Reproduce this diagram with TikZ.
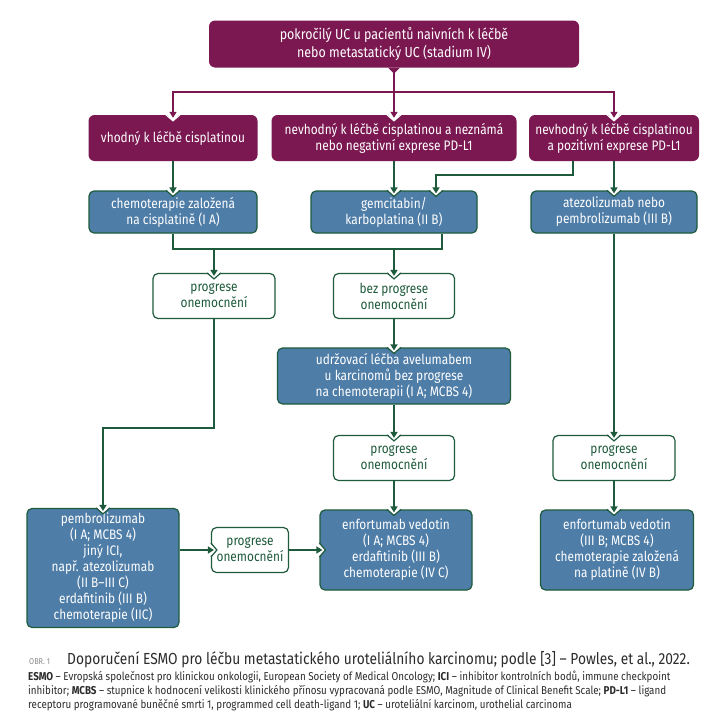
\documentclass[tikz,border=0pt]{standalone}
\usepackage{fontspec}
\setmainfont{Fira Sans}[FakeStretch=0.86]
\usetikzlibrary{arrows.meta}

\definecolor{fialova}{HTML}{7B1852}
\definecolor{modra}{HTML}{4E7DA8}
\definecolor{zelena}{HTML}{1E5A3C}
\definecolor{seda}{HTML}{8A8A8A}
\definecolor{tmava}{HTML}{2B2B2B}

% zářez v hraně boxu, kam míří šipka
\newcommand{\zarez}[3]{%
  \begin{scope}[shift={#1}, rotate=#2]
    \fill[white] (-7,-1.2) -- (0,6) -- (7,-1.2) -- cycle;
    \draw[#3, line width=1.2pt] (-7,0) -- (0,6) -- (7,0);
  \end{scope}}

\begin{document}
\begin{tikzpicture}[x=1pt, y=-1pt]
    % Definice stylů
    \tikzset{every node/.style={font=\fontsize{13.8}{16}\selectfont, align=center, inner sep=1pt}}
    \tikzstyle{fialovy}=[fill=fialova, text=white, rounded corners=6pt]
    \tikzstyle{modry}=[draw=zelena, line width=1.2pt, fill=modra, text=white, rounded corners=5pt]
    \tikzstyle{bily}=[draw=zelena, line width=1.2pt, fill=white, text=zelena, rounded corners=5pt]
    \tikzstyle{sipka}=[-{Triangle[length=6pt,width=7pt]}, line width=1.7pt, zelena, shorten >=-3pt]
    \tikzstyle{fsipka}=[-{Triangle[length=6pt,width=7pt]}, line width=1.7pt, fialova, shorten >=-3pt]
    \tikzstyle{cara}=[line width=1.7pt, zelena]

    \useasboundingbox (0,0) rectangle (715,720);

    % Úroveň 1: výchozí stav
    \node[fialovy, minimum width=370pt, minimum height=47pt, font=\fontsize{14.5}{18}\selectfont] (uvod) at (394,44)
        {pokročilý UC u pacientů naivních k léčbě\\nebo metastatický UC (stadium IV)};
    \fill[fialova] ([xshift=-6pt]uvod.south) -- ++(6,6) -- ++(6,-6) -- cycle;

    % Úroveň 2: skupiny pacientů
    \node[fialovy, minimum width=169pt, minimum height=46pt] (vhodny) at (173,138) {vhodný k léčbě cisplatinou};
    \node[fialovy, minimum width=245pt, minimum height=46pt] (nevhodny) at (394,138)
        {nevhodný k léčbě cisplatinou a neznámá\\nebo negativní exprese PD-L1};
    \node[fialovy, minimum width=170pt, minimum height=46pt] (nevhodnyPD) at (614,138)
        {nevhodný k léčbě cisplatinou\\a pozitivní exprese PD-L1};

    % Úroveň 3: první linie léčby
    \node[modry, minimum width=168pt, minimum height=42pt] (chemo) at (173,212) {chemoterapie založená\\na cisplatině (I A)};
    \node[modry, minimum width=166pt, minimum height=42pt] (gemcit) at (394,212) {gemcitabin/\\karboplatina (II B)};
    \node[modry, minimum width=166pt, minimum height=42pt] (atezo) at (614,212) {atezolizumab nebo\\pembrolizumab (III B)};

    % Úroveň 4: odpověď na chemoterapii
    \node[bily, minimum width=122pt, minimum height=45pt] (prog1) at (214,296) {progrese\\onemocnění};
    \node[bily, minimum width=121pt, minimum height=45pt] (bezprog) at (394,296) {bez progrese\\onemocnění};
    \node[modry, minimum width=233pt, minimum height=56pt] (udrz) at (394,376)
        {udržovací léčba avelumabem\\u karcinomů bez progrese\\na chemoterapii (I A; MCBS 4)};
    \node[bily, minimum width=121pt, minimum height=45pt] (prog2) at (394,458) {progrese\\onemocnění};
    \node[bily, minimum width=122pt, minimum height=45pt] (prog3) at (614,458) {progrese\\onemocnění};

    % Úroveň 5: další linie léčby
    \node[modry, minimum width=152pt, minimum height=119pt] (pembro) at (103,568)
        {pembrolizumab\\(I A; MCBS 4)\\jiný ICI,\\např. atezolizumab\\(II B–III C)\\erdafitinib (III B)\\chemoterapie (IIC)};
    \node[bily, minimum width=77pt, minimum height=45pt, inner sep=0pt] (prog4) at (250,550) {progrese\\onemocnění};
    \node[modry, minimum width=152pt, minimum height=80pt] (enf1) at (396,550)
        {enfortumab vedotin\\(I A; MCBS 4)\\erdafitinib (III B)\\chemoterapie (IV C)};
    \node[modry, minimum width=153pt, minimum height=80pt] (enf2) at (617,550)
        {enfortumab vedotin\\(III B; MCBS 4)\\chemoterapie založená\\na platině (IV B)};

    % Zářezy
    \zarez{(vhodny.north)}{0}{white}
    \zarez{(nevhodny.north)}{0}{white}
    \zarez{(nevhodnyPD.north)}{0}{white}
    \zarez{(chemo.north)}{0}{zelena}
    \zarez{(gemcit.north)}{0}{zelena}
    \zarez{([xshift=42pt]gemcit.north)}{0}{zelena}
    \zarez{(atezo.north)}{0}{zelena}
    \zarez{(prog1.north)}{0}{zelena}
    \zarez{(bezprog.north)}{0}{zelena}
    \zarez{(udrz.north)}{0}{zelena}
    \zarez{(prog2.north)}{0}{zelena}
    \zarez{(prog3.north)}{0}{zelena}
    \zarez{(pembro.north)}{0}{zelena}
    \zarez{(prog2.south |- enf1.north)}{0}{zelena}
    \zarez{(prog3.south |- enf2.north)}{0}{zelena}
    \zarez{(prog4.west)}{90}{zelena}
    \zarez{(enf1.west |- prog4)}{90}{zelena}

    % Spojnice
    \coordinate (rozcesti) at (394,92);
    \coordinate (ohyb) at (573,175);
    \coordinate (spojL) at (173,249);
    \coordinate (spojP) at (442,249);
    \coordinate (zalom) at (160,428);

    \draw[fsipka] (uvod.south) -- (nevhodny.north);
    \draw[fsipka] (rozcesti) -| (vhodny.north);
    \draw[fsipka] (rozcesti) -| (nevhodnyPD.north);

    \draw[sipka] (vhodny.south) -- (chemo.north);
    \draw[sipka] (nevhodny.south) -- (gemcit.north);
    \draw[sipka] (nevhodnyPD.south -| ohyb) -- (ohyb) -| ([xshift=42pt]gemcit.north);
    \draw[sipka] (nevhodnyPD.south) -- (atezo.north);

    \draw[cara] (chemo.south) -- (spojL) -- (spojP) -- (spojP |- gemcit.south);
    \draw[sipka] (spojL -| prog1) -- (prog1.north);
    \draw[sipka] (spojL -| bezprog) -- (bezprog.north);

    \draw[sipka] (prog1.south) |- (zalom) -| (pembro.north);
    \draw[sipka] (bezprog.south) -- (udrz.north);
    \draw[sipka] (udrz.south) -- (prog2.north);
    \draw[sipka] (prog2.south) -- (prog2.south |- enf1.north);
    \draw[sipka] (atezo.south) -- (prog3.north);
    \draw[sipka] (prog3.south) -- (prog3.south |- enf2.north);
    \draw[sipka] (prog4.west -| pembro.east) -- (prog4.west);
    \draw[sipka] (prog4.east) -- (prog4.east -| enf1.west);

    % Popisek obrázku
    \node[anchor=base west, text=seda, font=\fontsize{8.5}{10}\selectfont] (obr) at (28,664) {OBR. 1};
    \node[anchor=base west, text=tmava, font=\fontsize{16}{18}\selectfont] (popisek) at (66,664)
        {Doporučení ESMO pro léčbu metastatického uroteliálního karcinomu; podle [3] – Powles, et al., 2022.};
    \node[anchor=north west, align=left, text=tmava, font=\fontsize{11.4}{14}\selectfont] (legenda) at (27,670)
        {\textbf{ESMO} – Evropská společnost pro klinickou onkologii, European Society of Medical Oncology; \textbf{ICI} – inhibitor kontrolních bodů, immune checkpoint\\
         inhibitor; \textbf{MCBS} – stupnice k hodnocení velikosti klinického přínosu vypracovaná podle ESMO, Magnitude of Clinical Benefit Scale; \textbf{PD-L1} – ligand\\
         receptoru programované buněčné smrti 1, programmed cell death-ligand 1; \textbf{UC} – uroteliální karcinom, urothelial carcinoma};
\end{tikzpicture}
\end{document}
